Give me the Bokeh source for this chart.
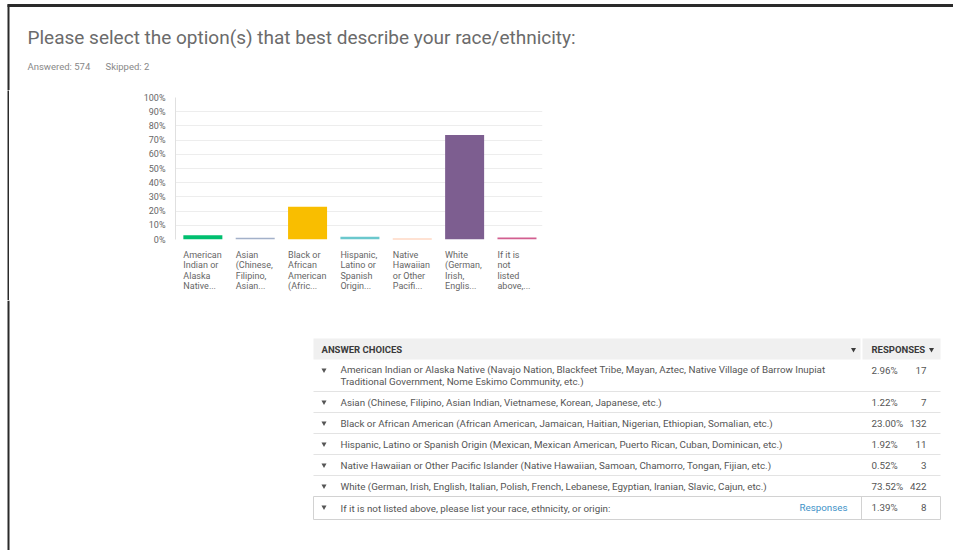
from bokeh.plotting import figure
from bokeh.layouts import column, row, Spacer
from bokeh.models import Range1d, FixedTicker, PrintfTickFormatter
from bokeh.core.properties import value
from bokeh.embed import file_html
from bokeh.resources import INLINE

FONT = "Roboto"

# ---------------- data ----------------
title_text = "Please select the option(s) that best describe your race/ethnicity:"
answered = 574
skipped = 2

axis_labels = [
    "American\nIndian or\nAlaska\nNative...",
    "Asian\n(Chinese,\nFilipino,\nAsian...",
    "Black or\nAfrican\nAmerican\n(Afric...",
    "Hispanic,\nLatino or\nSpanish\nOrigin...",
    "Native\nHawaiian\nor Other\nPacifi...",
    "White\n(German,\nIrish,\nEnglis...",
    "If it is\nnot\nlisted\nabove,...",
]
choices = [
    "American Indian or Alaska Native (Navajo Nation, Blackfeet Tribe, Mayan, Aztec, Native Village of Barrow Inupiat\nTraditional Government, Nome Eskimo Community, etc.)",
    "Asian (Chinese, Filipino, Asian Indian, Vietnamese, Korean, Japanese, etc.)",
    "Black or African American (African American, Jamaican, Haitian, Nigerian, Ethiopian, Somalian, etc.)",
    "Hispanic, Latino or Spanish Origin (Mexican, Mexican American, Puerto Rican, Cuban, Dominican, etc.)",
    "Native Hawaiian or Other Pacific Islander (Native Hawaiian, Samoan, Chamorro, Tongan, Fijian, etc.)",
    "White (German, Irish, English, Italian, Polish, French, Lebanese, Egyptian, Iranian, Slavic, Cajun, etc.)",
    "If it is not listed above, please list your race, ethnicity, or origin:",
]
percents = [2.96, 1.22, 23.00, 1.92, 0.52, 73.52, 1.39]
counts = [17, 7, 132, 11, 3, 422, 8]
bar_colors = ["#00bf6f", "#a3b1c9", "#f9be00", "#6bc8cd", "#ff8b4f", "#7d5e90", "#d25f90"]
y_ticks = [0, 10, 20, 30, 40, 50, 60, 70, 80, 90, 100]

BORDER = "#2a2a2a"
W, H = 953, 550


def canvas(x0, x1, y0, y1, left_border=True):
    p = figure(width=x1 - x0, height=y1 - y0,
               x_range=Range1d(x0, x1), y_range=Range1d(y1, y0),
               x_axis_type=None, y_axis_type=None,
               toolbar_location=None, output_backend="svg", min_border=0)
    p.outline_line_color = None
    p.background_fill_color = "white"
    p.border_fill_color = "white"
    if left_border:
        p.line([8, 8], [max(y0, 4), y1], line_width=2, line_color=BORDER)
    return p


# ---------------- header ----------------
hdr = canvas(0, W, 0, 90)
hdr.line([7, W], [5, 5], line_width=3, line_color=BORDER)
hdr.text(x=[27], y=[37], text=[title_text], text_font=value(FONT),
         text_font_size="19px", text_color="#6b6b6b", text_baseline="middle")
hdr.text(x=[27, 105], y=[66, 66], text=[f"Answered: {answered}", f"Skipped: {skipped}"],
         text_font=value(FONT), text_font_size="9.5px", text_color="#888888",
         text_baseline="middle")

# ---------------- chart row ----------------
strip = figure(width=2, height=210, x_axis_type=None, y_axis_type=None,
               toolbar_location=None, output_backend="svg", min_border=0)
strip.outline_line_color = None
strip.background_fill_color = BORDER
strip.border_fill_color = BORDER

n = len(percents)
idx = list(range(n))
bar_w = 0.745
xr = Range1d(-0.15, 6.86)
ch = figure(width=420, height=155, x_range=xr, y_range=Range1d(0, 100),
            toolbar_location=None, output_backend="svg",
            min_border_left=45, min_border_right=8, min_border_top=7, min_border_bottom=6)
ch.outline_line_color = None
ch.xaxis.visible = False
ch.xgrid.grid_line_color = None
ch.ygrid.ticker = FixedTicker(ticks=y_ticks)
ch.ygrid.grid_line_color = "#ededed"
ch.yaxis.ticker = FixedTicker(ticks=y_ticks)
ch.yaxis.formatter = PrintfTickFormatter(format="%d%%")
ch.yaxis.major_tick_line_color = None
ch.yaxis.major_tick_out = 0
ch.yaxis.major_tick_in = 0
ch.yaxis.minor_tick_line_color = None
ch.yaxis.axis_line_color = "#e0e0e0"
ch.yaxis.major_label_text_font = FONT
ch.yaxis.major_label_text_font_size = "9px"
ch.yaxis.major_label_text_color = "#666666"
ch.yaxis.major_label_standoff = 10
ch.quad(left=idx, right=[i + bar_w for i in idx], bottom=0, top=percents,
        fill_color=bar_colors, line_color=None)

lab = figure(width=420, height=55, x_range=xr, y_range=Range1d(0, 1),
             x_axis_type=None, y_axis_type=None, toolbar_location=None, output_backend="svg",
             min_border_left=45, min_border_right=8, min_border_top=0, min_border_bottom=0)
lab.outline_line_color = None
lab.grid.visible = False
lab.text(x=idx, y=[1] * n, text=axis_labels, text_font=value(FONT), text_font_size="9px",
         text_color="#666666", text_align="left", text_baseline="top",
         text_line_height=1.05, y_offset=4)

chart_row = row(Spacer(width=7, height=210), strip, Spacer(width=121, height=210),
                column(ch, lab), Spacer(width=W - 550, height=210))

# ---------------- table ----------------
tb = canvas(0, W, 300, H)
TX0, TX1, TDIV = 313, 940, 861
hdr_top, hdr_bot = 338, 359
tb.quad(left=[TX0, TDIV + 1], right=[TDIV - 1, TX1], top=[hdr_top] * 2, bottom=[hdr_bot] * 2,
        fill_color="#f0f0f0", line_color=None)
tb.text(x=[321, 871], y=[349, 349], text=["ANSWER CHOICES", "RESPONSES"],
        text_font=value(FONT), text_font_size="9.5px", text_font_style="bold",
        text_color="#3a3a3a", text_baseline="middle")
tb.scatter(x=[853, 931], y=[349, 349], marker="inverted_triangle", size=5,
           fill_color="#3a3a3a", line_color=None)

lines = [c.count("\n") + 1 for c in choices]
heights = [21 + 11 * (k - 1) for k in lines]
heights[-1] = 23
tops = []
t = hdr_bot
for h in heights:
    tops.append(t)
    t += h
bots = [a + b for a, b in zip(tops, heights)]
mids = [a + b / 2 for a, b in zip(tops, heights)]
first = [a + 10.5 for a in tops]

tb.segment(x0=TX0, x1=TX1, y0=bots[:-2], y1=bots[:-2], line_color="#e3e3e3", line_width=1)
tb.quad(left=[TX0], right=[TX1], top=[tops[-1]], bottom=[bots[-1]], fill_color=None,
        line_color="#d2d2d2", line_width=1)
tb.segment(x0=[TDIV], x1=[TDIV], y0=[tops[-1]], y1=[bots[-1]], line_color="#d2d2d2")
tb.scatter(x=[323.5] * n, y=first, marker="inverted_triangle", size=5,
           fill_color="#555555", line_color=None)
tb.text(x=[340] * n, y=mids, text=choices, text_font=value(FONT), text_font_size="9.8px",
        text_color="#555555", text_baseline="middle", text_line_height=1.1)
tb.text(x=[871] * n, y=first, text=[f"{v:.2f}%" for v in percents], text_font=value(FONT),
        text_font_size="9.8px", text_color="#555555", text_baseline="middle")
tb.text(x=[926] * n, y=first, text=[str(c) for c in counts], text_font=value(FONT),
        text_font_size="9.8px", text_color="#555555", text_baseline="middle", text_align="right")
tb.text(x=[847], y=[first[-1]], text=["Responses"], text_font=value(FONT), text_font_size="9.8px",
        text_color="#3f93c8", text_baseline="middle", text_align="right")

layout = column(hdr, chart_row, tb)
open("out.html", "w").write(file_html(layout, INLINE))
